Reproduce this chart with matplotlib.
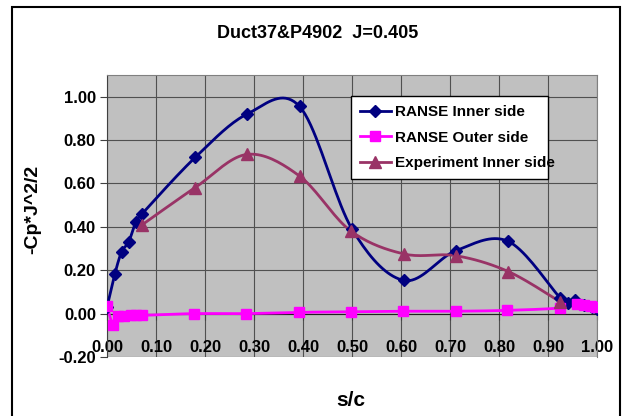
import numpy as np
import matplotlib.pyplot as plt
from matplotlib.patches import Rectangle

plt.rcParams['font.family'] = ['Liberation Sans', 'DejaVu Sans']
plt.rcParams['font.weight'] = 'bold'

# --- data ---
S_INNER = [0.0, 0.016, 0.030, 0.044, 0.059, 0.072, 0.180, 0.286, 0.393, 0.500,
           0.606, 0.712, 0.819, 0.925, 0.940, 0.955, 0.973, 0.990, 1.000]
CP_INNER = [0.03, 0.183, 0.286, 0.329, 0.423, 0.461, 0.720, 0.920, 0.955, 0.390,
            0.153, 0.290, 0.333, 0.072, 0.050, 0.065, 0.042, 0.030, 0.022]

S_OUTER = [0.0, 0.013, 0.023, 0.035, 0.048, 0.060, 0.072, 0.178, 0.283, 0.391,
           0.498, 0.605, 0.712, 0.817, 0.925, 0.960, 0.974, 0.988, 0.998]
CP_OUTER = [0.033, -0.054, -0.010, -0.009, -0.008, -0.008, -0.008, 0.0, 0.0, 0.006,
            0.008, 0.011, 0.011, 0.015, 0.026, 0.046, 0.040, 0.035, 0.030]

S_EXP = [0.072, 0.180, 0.286, 0.393, 0.497, 0.606, 0.712, 0.819, 0.925]
CP_EXP = [0.410, 0.581, 0.734, 0.634, 0.382, 0.275, 0.267, 0.194, 0.054]

X_TICKS = np.arange(0, 1.01, 0.1)
Y_TICKS = np.arange(-0.2, 1.01, 0.2)


def smooth(x, y, n=20):
    """Excel-like smoothed line (Bezier through the points)."""
    p = np.column_stack([x, y]).astype(float)
    out = [p[0]]
    for i in range(len(p) - 1):
        p0 = p[i - 1] if i > 0 else p[i]
        p3 = p[i + 2] if i + 2 < len(p) else p[i + 1]
        c1 = p[i] + (p[i + 1] - p0) / 6
        c2 = p[i + 1] - (p3 - p[i]) / 6
        t = np.linspace(0, 1, n)[1:, None]
        seg = ((1 - t) ** 3 * p[i] + 3 * (1 - t) ** 2 * t * c1
               + 3 * (1 - t) * t ** 2 * c2 + t ** 3 * p[i + 1])
        out.extend(seg)
    out = np.array(out)
    return out[:, 0], out[:, 1]


fig = plt.figure(figsize=(6.24, 4.16), dpi=100)
ax = fig.add_axes([107 / 624, 59 / 416, 490 / 624, 282 / 416])
ax.set_facecolor('#C0C0C0')

series = [
    (S_INNER, CP_INNER, '#000080', 'D', 6, 'RANSE Inner side'),
    (S_OUTER, CP_OUTER, '#FF00FF', 's', 7, 'RANSE Outer side'),
    (S_EXP, CP_EXP, '#993366', '^', 8, 'Experiment Inner side'),
]
for sx, sy, col, mk, ms, lab in series:
    xs, ys = smooth(sx, sy)
    ax.plot(xs, ys, color=col, lw=2, zorder=3)
    ax.plot(sx, sy, ls='none', marker=mk, ms=ms, color=col, zorder=4)
    ax.plot([], [], color=col, lw=2, marker=mk, ms=ms, label=lab)

ax.set_xlim(0, 1.0)
ax.set_ylim(-0.2, 1.1)
ax.set_xticks(X_TICKS)
ax.set_yticks(Y_TICKS)
ax.set_xticklabels([f'{v:.2f}' for v in X_TICKS])
ax.set_yticklabels([f'{v:.2f}' for v in Y_TICKS])
ax.grid(True, color='#505050', lw=0.8)
ax.set_axisbelow(True)

ax.spines['bottom'].set_position(('data', 0))
for side in ['top', 'right']:
    ax.spines[side].set_color('#808080')
ax.spines['left'].set_color('#404040')
ax.spines['bottom'].set_color('#202020')
ax.tick_params(axis='x', direction='out', length=4, pad=15, labelsize=12, color='#404040')
ax.tick_params(axis='y', direction='out', length=5, pad=3, labelsize=12, color='#404040')

fig.text(318 / 624, 1 - 34 / 416, 'Duct37&P4902  J=0.405', fontsize=13,
         fontweight='bold', ha='center', va='center')
fig.text(351 / 624, 1 - 400 / 416, 's/c', fontsize=15, fontweight='bold',
         ha='center', va='center')
fig.text(33 / 624, 1 - 209 / 416, '-Cp*J^2/2', fontsize=14, fontweight='bold',
         rotation=90, ha='center', va='center')

leg = ax.legend(loc='upper left', bbox_to_anchor=(0.498, 0.631, 0.402, 0.2945),
                mode='expand', fontsize=11, fancybox=False, framealpha=1,
                edgecolor='black', borderaxespad=0, handlelength=2.0,
                labelspacing=0.75, borderpad=0.6, handletextpad=0.3)
leg.get_frame().set_linewidth(1.0)

fig.add_artist(Rectangle((12 / 624, -0.02), 608 / 624, 1 - 7 / 416 + 0.02,
                         transform=fig.transFigure, fill=False, lw=1.5,
                         edgecolor='black'))

fig.savefig('out.png', dpi=100)
